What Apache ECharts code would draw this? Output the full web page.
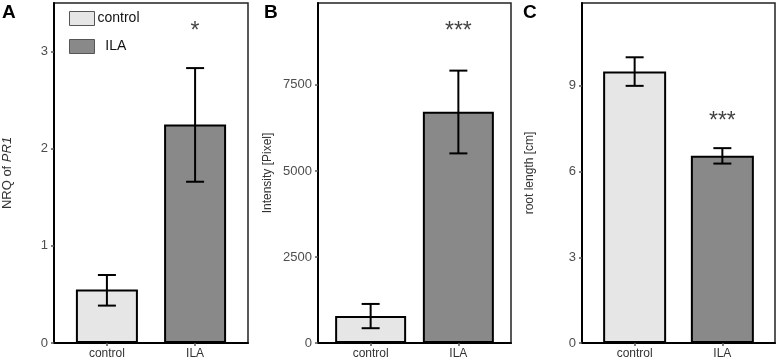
<!DOCTYPE html>
<html>
<head>
<meta charset="utf-8">
<script src="https://cdn.jsdelivr.net/npm/echarts@6/dist/echarts.min.js"></script>
<style>
  html, body { margin: 0; padding: 0; background: #fff; }
  #chart { width: 777px; height: 361px; }
</style>
</head>
<body>
<div id="chart"></div>
<script>
// data
const categories = ["control", "ILA"];

const nrqMean = [0.55, 2.25];
const nrqErr = [[0.385, 0.70], [1.66, 2.83]];
const nrqTicks = [0, 1, 2, 3];

const intensityMean = [785, 6720];
const intensityErr = [[430, 1135], [5510, 7915]];
const intensityTicks = [0, 2500, 5000, 7500];

const rootMean = [9.5, 6.55];
const rootErr = [[9.0, 10.0], [6.28, 6.82]];
const rootTicks = [0, 3, 6, 9];

const stars = ["*", "***", "***"];
const starY = [3.2, 9050, 7.75];

const colors = ["#e6e6e6", "#898989"];
const fontFamily = "Liberation Sans, Arial, sans-serif";

const panels = [
  { label: "A", left: 54, right: 529, max: 3.5, ticks: nrqTicks, mean: nrqMean, err: nrqErr,
    name: "NRQ of {i|PR1}", nameGap: 40, nameSize: 13, barWidth: 62 },
  { label: "B", left: 318, right: 266, max: 9880, ticks: intensityTicks, mean: intensityMean, err: intensityErr,
    name: "Intensity [Pixel]", nameGap: 44, nameSize: 12, barWidth: 71 },
  { label: "C", left: 582, right: 2, max: 11.9, ticks: rootTicks, mean: rootMean, err: rootErr,
    name: "root length [cm]", nameGap: 46, nameSize: 12, barWidth: 63 },
];

const chart = echarts.init(document.getElementById("chart"));

const grid = [], xAxis = [], yAxis = [], series = [];

panels.forEach((p, k) => {
  grid.push({
    left: p.left, right: p.right, top: 3, bottom: 18,
    show: true, borderColor: "#222", borderWidth: 1.5, backgroundColor: "transparent",
  });
  xAxis.push({
    gridIndex: k, type: "value", min: -0.6, max: 1.6,
    splitLine: { show: false },
    axisLine: { show: true, onZero: false, lineStyle: { color: "#000", width: 2 } },
    axisTick: { show: true, customValues: [0, 1], length: 3, lineStyle: { color: "#555", width: 1.5 } },
    axisLabel: {
      customValues: [0, 1], formatter: (v) => categories[Math.round(v)],
      color: "#333", fontSize: 12, fontFamily, margin: 5,
    },
  });
  yAxis.push({
    gridIndex: k, type: "value", min: 0, max: p.max,
    name: p.name, nameLocation: "middle", nameGap: p.nameGap, nameRotate: 90,
    nameTextStyle: {
      color: "#333", fontSize: p.nameSize, fontFamily,
      rich: { i: { fontStyle: "italic", fontSize: p.nameSize, color: "#333", fontFamily } },
    },
    splitLine: { show: false },
    axisLine: { show: true, onZero: false, lineStyle: { color: "#000", width: 2 } },
    axisTick: { show: true, customValues: p.ticks, length: 3, lineStyle: { color: "#555", width: 1.5 } },
    axisLabel: {
      customValues: p.ticks, formatter: (v) => String(v),
      color: "#4d4d4d", fontSize: 13, fontFamily, margin: 6,
    },
  });

  categories.forEach((c, j) => {
    series.push({
      name: c, type: "bar", xAxisIndex: k, yAxisIndex: k,
      barWidth: p.barWidth, barGap: "-100%",
      data: [[j, p.mean[j]]],
      itemStyle: { color: colors[j], borderColor: "#000", borderWidth: 2 },
      z: 2,
    });
  });

  series.push({
    type: "custom", xAxisIndex: k, yAxisIndex: k, z: 5,
    data: p.err.map((e, j) => [j, e[0], e[1]]),
    renderItem: (params, api) => {
      const lo = api.coord([api.value(0), api.value(1)]);
      const hi = api.coord([api.value(0), api.value(2)]);
      const hw = 9;
      const style = { stroke: "#000", lineWidth: 2 };
      return {
        type: "group",
        children: [
          { type: "line", shape: { x1: lo[0], y1: lo[1], x2: hi[0], y2: hi[1] }, style },
          { type: "line", shape: { x1: lo[0] - hw, y1: lo[1], x2: lo[0] + hw, y2: lo[1] }, style },
          { type: "line", shape: { x1: hi[0] - hw, y1: hi[1], x2: hi[0] + hw, y2: hi[1] }, style },
        ],
      };
    },
  });

  series.push({
    type: "scatter", xAxisIndex: k, yAxisIndex: k, symbolSize: 0, z: 6,
    data: [[1, starY[k]]],
    label: {
      show: true, position: "inside", formatter: stars[k],
      color: "#111", fontSize: 23, fontFamily,
    },
  });
});

const panelLabels = panels.map((p, k) => ({
  type: "text", left: [2, 264, 523][k], top: 3,
  style: { text: p.label, font: "bold 19px " + fontFamily, fill: "#000" },
}));

chart.setOption({
  animation: false,
  grid, xAxis, yAxis, series,
  legend: {
    data: categories, orient: "vertical", left: 64, top: 6, itemGap: 13,
    itemWidth: 25, itemHeight: 14, icon: "rect",
    itemStyle: { borderColor: "#555", borderWidth: 1 },
    formatter: (name) => (name === "ILA" ? "  " + name : name),
    textStyle: { color: "#111", fontSize: 14, fontFamily, padding: [0, 0, 0, -2] },
  },
  graphic: panelLabels,
});
</script>
</body>
</html>
